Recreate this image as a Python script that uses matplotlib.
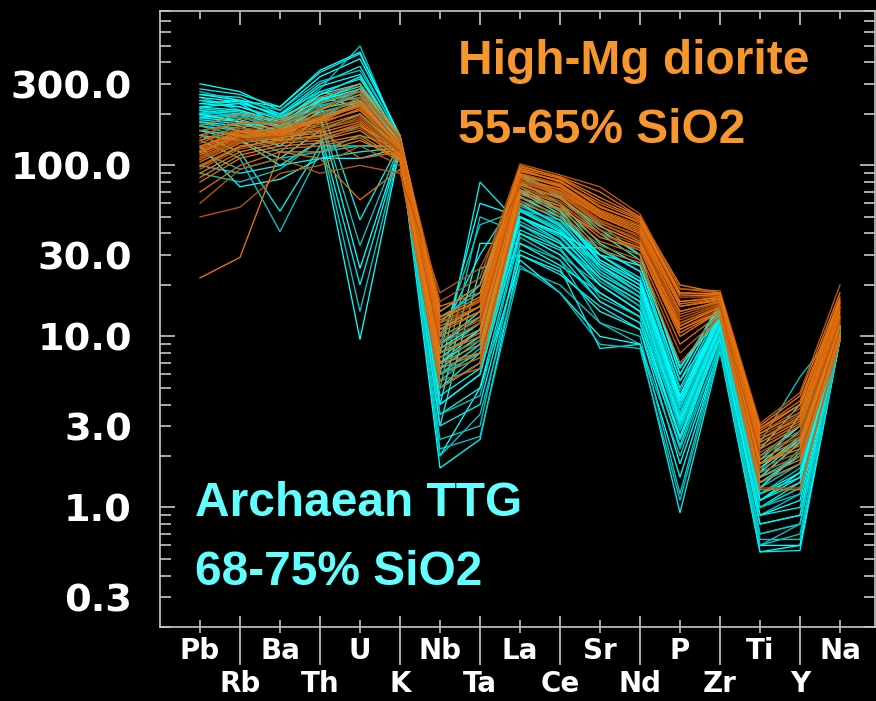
import matplotlib
matplotlib.use("Agg")
import matplotlib.pyplot as plt
import matplotlib.transforms as mtransforms
import numpy as np

# Spider-diagram element order
elements = ["Pb", "Rb", "Ba", "Th", "U", "K", "Nb", "Ta", "La",
            "Ce", "Sr", "Nd", "P", "Zr", "Ti", "Y", "Na"]

# Archaean TTG (68-75% SiO2), normalised concentrations
ttg = [
    [300, 270, 210, 330, 420, 150, 9, 14, 80, 60, 35, 26, 5.5, 15, 1.8, 2.8, 11.5],
    [260, 250, 200, 300, 380, 145, 12, 20, 75, 55, 30, 22, 4.5, 14, 1.6, 3.5, 11],
    [240, 220, 190, 280, 500, 140, 8, 12, 65, 50, 28, 20, 4, 13, 1.3, 2.2, 11],
    [220, 230, 170, 260, 330, 138, 6, 9, 60, 45, 25, 18, 3.5, 12, 1.1, 1.6, 10.5],
    [200, 180, 160, 240, 300, 135, 5, 8, 55, 42, 24, 17, 3.2, 11, 1.0, 1.4, 10.5],
    [190, 200, 150, 220, 260, 132, 4, 6, 50, 38, 22, 15, 2.8, 10, 0.9, 1.2, 10],
    [180, 170, 140, 210, 280, 130, 7, 11, 45, 35, 20, 14, 3.0, 10.5, 0.8, 0.9, 10],
    [170, 160, 130, 190, 250, 128, 3.5, 5, 40, 32, 18, 13, 2.5, 9.5, 0.7, 0.8, 10],
    [160, 150, 120, 180, 230, 126, 2.5, 3, 35, 28, 16, 12, 2.2, 9, 0.6, 0.7, 9.8],
    [150, 140, 110, 160, 200, 125, 1.7, 2.5, 30, 24, 14, 11, 1.8, 8.5, 0.55, 0.6, 9.6],
    [280, 260, 220, 350, 450, 148, 10, 30, 70, 58, 32, 24, 5, 14.5, 1.7, 2.5, 11.5],
    [250, 210, 180, 270, 240, 142, 9, 45, 55, 48, 30, 22, 4.8, 13.5, 1.5, 2.0, 11],
    [230, 240, 190, 250, 220, 140, 8, 60, 50, 40, 26, 18, 4.2, 12.5, 1.4, 1.8, 11],
    [210, 190, 175, 230, 48, 135, 6, 80, 45, 35, 22, 16, 3.5, 12, 1.2, 1.5, 10.5],
    [200, 210, 165, 200, 34, 133, 5, 50, 40, 30, 20, 14, 3, 11, 1.0, 1.3, 10.5],
    [190, 180, 150, 190, 25, 130, 4, 35, 35, 26, 18, 13, 2.6, 10.5, 0.9, 1.1, 10],
    [180, 160, 145, 160, 20, 128, 3, 25, 30, 23, 15, 11, 2.3, 10, 0.8, 0.9, 10],
    [170, 150, 140, 150, 14, 126, 2.2, 2.6, 25, 20, 12, 9, 2.0, 9, 0.7, 0.8, 9.8],
    [160, 140, 100, 140, 9.6, 125, 2, 5, 28, 18, 10, 9, 1.5, 8.5, 0.6, 0.6, 9.6],
    [150, 120, 54, 130, 130, 130, 5, 7, 40, 30, 16, 12, 2.5, 10, 0.9, 1.0, 10],
    [140, 110, 41, 120, 150, 128, 6, 9, 45, 33, 17, 13, 3, 11, 1.0, 1.2, 10.5],
    [130, 75, 83, 110, 110, 126, 7, 10, 50, 36, 20, 14, 3.4, 11.5, 1.1, 1.5, 10.5],
    [240, 230, 200, 270, 320, 145, 11, 15, 85, 65, 40, 28, 6.5, 15, 2.0, 3.0, 11.5],
    [270, 240, 210, 310, 360, 150, 13, 18, 90, 68, 45, 30, 6.0, 16, 2.4, 5.8, 11.5],
    [220, 210, 180, 240, 280, 140, 9, 13, 70, 52, 27, 20, 4.5, 13, 1.6, 2.5, 11],
    [210, 200, 170, 230, 270, 138, 7, 10, 62, 48, 26, 19, 4, 12.5, 1.4, 2.0, 11],
    [205, 195, 165, 225, 250, 136, 6, 8, 58, 46, 25, 18, 3.6, 12, 1.3, 1.8, 10.8],
    [195, 185, 160, 215, 240, 134, 5, 7, 54, 41, 23, 17, 3.3, 11.5, 1.2, 1.6, 10.6],
    [185, 175, 155, 205, 235, 132, 4.5, 6.5, 50, 39, 22, 16, 3.1, 11, 1.1, 1.4, 10.4],
    [175, 165, 150, 195, 225, 131, 4, 6, 47, 36, 21, 15, 2.9, 10.5, 1.0, 1.3, 10.2],
    [230, 220, 185, 260, 300, 139, 7.5, 11, 66, 50, 30, 21, 4.2, 13, 1.5, 2.4, 11],
    [215, 205, 175, 245, 290, 137, 6.5, 9.5, 60, 44, 26, 19, 3.8, 12.5, 1.3, 2.1, 10.8],
    [200, 190, 168, 235, 270, 135, 5.5, 8.5, 56, 43, 24, 17, 3.4, 12, 1.2, 1.7, 10.6],
    [250, 235, 195, 290, 340, 142, 8.5, 12, 72, 54, 28, 21, 4.4, 13.5, 1.7, 2.6, 11.2],
    [100, 90, 100, 110, 120, 127, 3, 4, 32, 25, 8.5, 9, 0.93, 8.2, 0.55, 0.56, 9.6],
    [120, 95, 110, 120, 130, 128, 3.5, 4.5, 38, 28, 12, 10, 1.2, 9, 0.65, 0.65, 9.8],
    [200, 180, 150, 240, 280, 133, 5, 7, 50, 40, 30, 26, 6.7, 13, 1.9, 3.0, 11],
    [160, 150, 130, 190, 220, 130, 4, 6, 42, 33, 33, 24, 5.5, 12, 1.5, 2.4, 10.5],
    [90, 80, 95, 140, 170, 125, 2, 3.5, 26, 18, 9, 8.5, 1.1, 8.5, 0.6, 0.8, 9.7],
    [260, 240, 220, 360, 460, 146, 14, 20, 88, 66, 42, 30, 6, 15.5, 2.2, 4, 11.3],
]

# High-Mg diorite (55-65% SiO2), normalised concentrations
hmd = [
    [150, 180, 170, 210, 260, 140, 15, 18, 100, 85, 65, 50, 20, 18, 3.0, 4.5, 18],
    [140, 170, 165, 200, 240, 135, 13, 16, 95, 80, 60, 48, 18, 17.5, 2.8, 4.0, 16],
    [130, 160, 160, 190, 220, 130, 12, 15, 90, 78, 55, 45, 16, 17, 2.6, 3.5, 15],
    [120, 150, 155, 180, 210, 125, 11, 14, 88, 75, 52, 42, 15, 16.5, 2.4, 3.2, 14],
    [115, 145, 150, 170, 200, 122, 10, 13, 85, 72, 50, 40, 14, 16, 2.2, 3.0, 13],
    [110, 140, 148, 160, 190, 120, 9, 12, 82, 70, 48, 38, 13, 15.5, 2.0, 2.7, 12.5],
    [105, 135, 145, 155, 180, 118, 8.5, 11, 80, 68, 46, 36, 12, 15, 1.9, 2.5, 12],
    [100, 130, 140, 150, 170, 115, 8, 10, 78, 65, 44, 35, 11.5, 15, 1.8, 2.3, 11.5],
    [95, 125, 138, 145, 165, 112, 7.5, 9.5, 75, 62, 42, 34, 11, 14.5, 1.7, 2.1, 11],
    [90, 120, 135, 140, 160, 110, 7, 9, 72, 60, 40, 33, 10.5, 14, 1.6, 2.0, 10.5],
    [160, 175, 180, 230, 280, 145, 14, 20, 98, 86, 70, 50, 19, 18, 2.9, 4.2, 17],
    [135, 165, 160, 195, 250, 132, 12, 16, 92, 82, 58, 46, 17, 17, 2.7, 3.8, 15.5],
    [125, 155, 158, 185, 230, 128, 11, 15, 87, 77, 54, 44, 16, 16.8, 2.5, 3.4, 14.5],
    [118, 148, 152, 175, 215, 124, 10.5, 14, 84, 73, 51, 41, 15, 16.2, 2.3, 3.1, 13.5],
    [112, 142, 149, 165, 195, 121, 9.5, 12.5, 81, 69, 47, 39, 13.5, 15.8, 2.1, 2.8, 12.8],
    [85, 115, 130, 135, 150, 108, 6.5, 8, 70, 58, 38, 32, 10, 14, 1.5, 1.9, 10],
    [80, 110, 125, 130, 145, 105, 6, 7.5, 65, 55, 36, 30, 9, 13.5, 1.4, 1.8, 9.8],
    [50, 57, 90, 100, 130, 100, 5, 7, 62, 52, 34, 28, 8, 13, 1.3, 1.3, 9.6],
    [22, 29, 120, 120, 140, 110, 7, 8, 68, 56, 40, 33, 11, 14, 1.8, 2.2, 11],
    [70, 100, 120, 110, 63, 95, 5.5, 6.5, 60, 50, 32, 27, 7, 13, 1.27, 1.27, 9.6],
    [145, 190, 175, 215, 270, 142, 16, 22, 102, 88, 75, 52, 19, 18.5, 3.1, 4.7, 20],
    [128, 158, 162, 188, 235, 131, 12.5, 16.5, 93, 81, 57, 47, 17.5, 17.2, 2.7, 3.6, 15.8],
    [122, 152, 156, 182, 225, 127, 11.5, 15, 89, 76, 53, 43, 15.5, 16.6, 2.5, 3.3, 14.8],
    [108, 138, 147, 162, 185, 119, 9, 12, 80, 67, 46, 37, 12.5, 15.3, 2.0, 2.6, 12.3],
    [98, 128, 142, 148, 175, 114, 8, 10.5, 77, 64, 44, 35, 11.5, 14.8, 1.8, 2.4, 11.6],
    [140, 160, 150, 160, 110, 120, 10, 13, 85, 70, 50, 40, 14, 16, 2.2, 3.0, 13],
    [60, 95, 110, 90, 100, 90, 18, 25, 75, 60, 40, 32, 12, 15, 1.6, 2.0, 11],
    [170, 200, 185, 250, 300, 150, 13, 17, 96, 84, 62, 49, 18, 17.8, 2.9, 4.0, 16.5],
]

ytick_values = [300, 100, 30, 10, 3, 1, 0.3]
ytick_labels = ["300.0", "100.0", "30.0", "10.0", "3.0", "1.0", "0.3"]

W, H, DPI = 876, 701, 100
fig = plt.figure(figsize=(W / DPI, H / DPI), dpi=DPI, facecolor="black")
ax = fig.add_axes([160 / W, 1 - 627 / H, 715 / W, 616 / H], facecolor="black")

x = np.arange(len(elements))

cyan_cols = ["#00FFFF", "#00EEEE", "#00C8C8"]
for i, row in enumerate(ttg):
    ax.plot(x, row, color=cyan_cols[i % 3], lw=0.95, solid_joinstyle="miter")

orange_cols = ["#EA750F", "#DC6B0E", "#BC590C"]
for i, row in enumerate(hmd):
    ax.plot(x, row, color=orange_cols[i % 3], lw=0.95, solid_joinstyle="miter")

ax.set_yscale("log")
ax.set_ylim(0.2, 800)
ax.set_xlim(-1, 16.875)

spine_col = "#C8C8C8"
for s in ax.spines.values():
    s.set_color(spine_col)
    s.set_linewidth(1.2)

# y ticks: long at decades, short at intermediate values, both sides, inward
ax.yaxis.set_major_locator(matplotlib.ticker.LogLocator(base=10, subs=(1.0,)))
ax.yaxis.set_minor_locator(matplotlib.ticker.LogLocator(base=10, subs=np.arange(2, 10)))
ax.yaxis.set_major_formatter(matplotlib.ticker.NullFormatter())
ax.yaxis.set_minor_formatter(matplotlib.ticker.NullFormatter())
ax.tick_params(axis="y", which="major", direction="in", length=11, width=1.2,
               color=spine_col, left=True, right=True)
ax.tick_params(axis="y", which="minor", direction="in", length=8, width=1.2,
               color=spine_col, left=True, right=True)

# x ticks on the top edge: long at odd positions, short at even positions
ax.set_xticks(x[1::2])
ax.set_xticks(x[0::2], minor=True)
ax.xaxis.set_major_formatter(matplotlib.ticker.NullFormatter())
ax.xaxis.set_minor_formatter(matplotlib.ticker.NullFormatter())
ax.tick_params(axis="x", which="major", direction="in", length=10, width=1.2,
               color=spine_col, top=True, bottom=False)
ax.tick_params(axis="x", which="minor", direction="in", length=6, width=1.2,
               color=spine_col, top=True, bottom=False)

# bottom edge: separators between label columns and short centre ticks
bt = mtransforms.blended_transform_factory(ax.transData, ax.transAxes)
ax_h = 616.0
for xi in x:
    if xi % 2 == 1:
        y0, y1 = 11 / ax_h, -38 / ax_h
    else:
        y0, y1 = 7 / ax_h, -6 / ax_h
    ax.plot([xi, xi], [y0, y1], transform=bt, color=spine_col, lw=1.2,
            clip_on=False, solid_capstyle="butt")

# element labels in two staggered rows
for xi, name in zip(x, elements):
    yb = -32 / ax_h if xi % 2 == 0 else -65 / ax_h
    ax.text(xi, yb, name, transform=bt, ha="center", va="baseline",
            color="white", fontsize=20, fontweight="bold",
            family="DejaVu Sans")

# y value labels
lt = mtransforms.blended_transform_factory(ax.transAxes, ax.transData)
lt = mtransforms.offset_copy(lt, fig=fig, x=0, y=-10.3, units="points")
for v, lab in zip(ytick_values, ytick_labels):
    ax.text(-28 / 715, v, lab, transform=lt, ha="right", va="baseline",
            color="white", fontsize=27.5, fontweight="bold", family="DejaVu Sans")

# group annotations
org = "#F8962E"
cyn = "#62FFFF"
fig.text(458 / W, 1 - 74 / H, "High-Mg diorite", color=org, fontsize=34.5,
         fontweight="bold", family="Liberation Sans", ha="left", va="baseline")
fig.text(458 / W, 1 - 143 / H, "55-65% SiO2", color=org, fontsize=34.5,
         fontweight="bold", family="Liberation Sans", ha="left", va="baseline")
fig.text(195 / W, 1 - 516 / H, "Archaean TTG", color=cyn, fontsize=34.5,
         fontweight="bold", family="Liberation Sans", ha="left", va="baseline")
fig.text(195 / W, 1 - 585 / H, "68-75% SiO2", color=cyn, fontsize=34.5,
         fontweight="bold", family="Liberation Sans", ha="left", va="baseline")

fig.savefig("out.png", dpi=DPI, facecolor="black")
